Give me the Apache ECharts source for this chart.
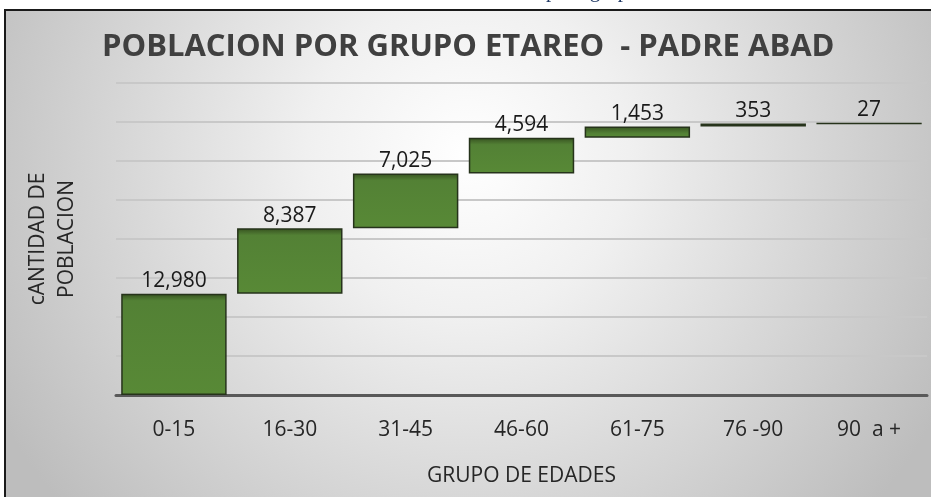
<!DOCTYPE html>
<html>
<head>
<meta charset="utf-8">
<script src="https://cdn.jsdelivr.net/npm/echarts/dist/echarts.min.js"></script>
<style>
  html, body { margin: 0; padding: 0; background: #fff; }
  #chart { width: 931px; height: 497px; }
</style>
</head>
<body>
<div id="chart"></div>
<script>
// datos
var grupos = ['0-15', '16-30', '31-45', '46-60', '61-75', '76 -90', '90  a +'];
var poblacion = [12980, 8387, 7025, 4594, 1453, 353, 27];
var ejeMin = 0;
var ejeMax = 40000;
var ejeIntervalo = 5000;

// base invisible para la cascada (acumulado anterior)
var base = [];
var acum = 0;
poblacion.forEach(function (v) {
  base.push(acum);
  acum += v;
});

var myChart = echarts.init(document.getElementById('chart'));

// sombra interior de ~7px arriba, como en Excel
function verde(p) {
  var alto = p.value / (ejeMax - ejeMin) * 312;
  var s = Math.min(1, 7 / Math.max(alto, 0.1));
  return new echarts.graphic.LinearGradient(0, 0, 0, 1, [
    { offset: 0, color: '#34511d' },
    { offset: s * 0.5, color: '#45692b' },
    { offset: s, color: '#538135' },
    { offset: 1, color: '#588936' }
  ]);
}

var option = {
  backgroundColor: '#ffffff',
  animation: false,
  title: {
    text: 'POBLACION POR GRUPO ETAREO  - PADRE ABAD',
    left: 102,
    top: 32,
    padding: 0,
    textStyle: {
      fontFamily: 'Open Sans',
      fontWeight: 'bold',
      fontSize: 31,
      color: '#404040'
    }
  },
  graphic: [
    {
      type: 'rect',
      z: -10,
      shape: { x: 5, y: 10, width: 926, height: 487 },
      style: {
        fill: new echarts.graphic.RadialGradient(0.5, 0.3, 1.1, [
          { offset: 0, color: '#ffffff' },
          { offset: 0.3, color: '#f0f0f0' },
          { offset: 1, color: '#bdbdbd' }
        ])
      }
    },
    {
      type: 'polyline',
      z: 100,
      shape: { points: [[5, 497], [5, 10], [931, 10]] },
      style: { stroke: '#1a1a1a', lineWidth: 2, fill: null }
    },
    {
      type: 'text',
      z: 100,
      style: {
        text: 'por   grupo',
        x: 546,
        y: -9,
        verticalAlign: 'middle',
        fill: '#1f3864',
        font: '21px "Liberation Serif"'
      }
    }
  ],
  grid: {
    left: 116,
    right: 4,
    top: 83,
    bottom: 102
  },
  xAxis: {
    type: 'category',
    data: grupos,
    name: 'GRUPO DE EDADES',
    nameLocation: 'middle',
    nameGap: 71,
    nameTextStyle: {
      fontFamily: 'Open Sans',
      fontSize: 21,
      color: '#262626'
    },
    axisLine: { lineStyle: { color: '#595959', width: 3 } },
    axisTick: { inside: true, length: 6, lineStyle: { color: '#595959', width: 3 } },
    axisLabel: {
      margin: 25,
      fontFamily: 'Open Sans',
      fontSize: 21,
      color: '#262626'
    }
  },
  yAxis: {
    type: 'value',
    min: ejeMin,
    max: ejeMax,
    interval: ejeIntervalo,
    name: 'cANTIDAD DE\nPOBLACION',
    nameLocation: 'middle',
    nameRotate: 90,
    nameGap: 34,
    nameTextStyle: {
      fontFamily: 'Open Sans',
      fontSize: 21,
      lineHeight: 29,
      color: '#262626'
    },
    axisLine: { show: false },
    axisTick: { show: false },
    axisLabel: { show: false },
    splitLine: { lineStyle: { color: '#c8c8c8', width: 2 } }
  },
  series: [
    {
      name: 'base',
      type: 'bar',
      stack: 'total',
      silent: true,
      barCategoryGap: '9%',
      itemStyle: { color: 'transparent', borderColor: 'transparent' },
      data: base
    },
    {
      name: 'poblacion',
      type: 'bar',
      stack: 'total',
      barCategoryGap: '9%',
      itemStyle: {
        color: verde,
        borderColor: '#26331b',
        borderWidth: 1.5
      },
      label: {
        show: true,
        position: 'top',
        distance: 2,
        fontFamily: 'Open Sans',
        fontSize: 21,
        color: '#1a1a1a',
        formatter: function (p) {
          return p.value.toLocaleString('en-US');
        }
      },
      data: poblacion
    }
  ]
};

myChart.setOption(option);
</script>
</body>
</html>
